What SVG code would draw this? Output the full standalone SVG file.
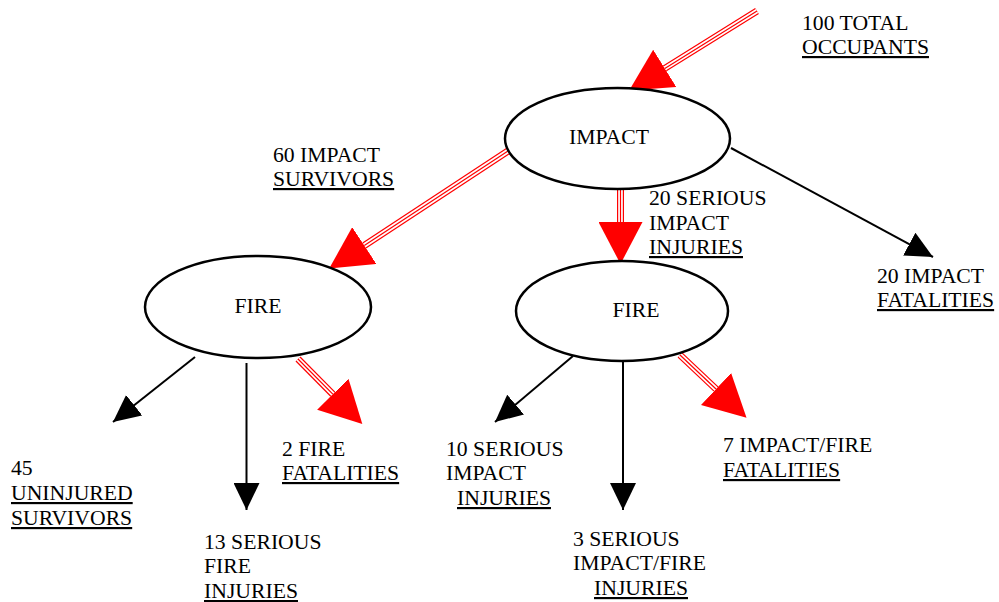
<svg xmlns="http://www.w3.org/2000/svg" width="999" height="602" viewBox="0 0 999 602">
<style>
text{font-family:"Liberation Serif","Times New Roman",serif;font-size:21.7px;fill:#000}
.u{text-decoration:underline}
.node{fill:#fff;stroke:#000;stroke-width:2.5}
.blk{stroke:#000;stroke-width:2;fill:none}
.red{stroke:#f00;stroke-width:7;fill:none}
.wht{stroke:#fff;stroke-width:4.6;fill:none}
.mid{stroke:#f00;stroke-width:1.2;fill:none}
</style>
<defs>
<marker id="bh" markerUnits="userSpaceOnUse" viewBox="0 0 27 26" refX="27" refY="13" markerWidth="27" markerHeight="26" orient="auto">
<path d="M0,0 L27,13 L0,26 Z" fill="#000"/>
</marker>
<marker id="rh" markerUnits="userSpaceOnUse" viewBox="0 0 42 44" refX="0" refY="22" markerWidth="42" markerHeight="44" orient="auto">
<path d="M0,0 L42,22 L0,44 Z" fill="#f00"/>
</marker>
</defs>
<g id="connectors">
<line class="red" x1="757" y1="11" x2="664.8" y2="68.4" marker-end="url(#rh)"/>
<line class="wht" x1="757" y1="11" x2="664.8" y2="68.4"/>
<line class="mid" x1="757" y1="11" x2="664.8" y2="68.4"/>
<line class="red" x1="508" y1="151" x2="364.3" y2="245.5" marker-end="url(#rh)"/>
<line class="wht" x1="508" y1="151" x2="364.3" y2="245.5"/>
<line class="mid" x1="508" y1="151" x2="364.3" y2="245.5"/>
<line class="red" x1="620.5" y1="189" x2="620.5" y2="222" marker-end="url(#rh)"/>
<line class="wht" x1="620.5" y1="189" x2="620.5" y2="222"/>
<line class="mid" x1="620.5" y1="189" x2="620.5" y2="222"/>
<line class="red" x1="298" y1="359" x2="332.8" y2="394.2" marker-end="url(#rh)"/>
<line class="wht" x1="298" y1="359" x2="332.8" y2="394.2"/>
<line class="mid" x1="298" y1="359" x2="332.8" y2="394.2"/>
<line class="red" x1="680" y1="355" x2="716" y2="389" marker-end="url(#rh)"/>
<line class="wht" x1="680" y1="355" x2="716" y2="389"/>
<line class="mid" x1="680" y1="355" x2="716" y2="389"/>
<line class="blk" x1="731" y1="148" x2="933" y2="257" marker-end="url(#bh)"/>
<line class="blk" x1="195" y1="357" x2="113" y2="422" marker-end="url(#bh)"/>
<line class="blk" x1="246.5" y1="363" x2="246.5" y2="510" marker-end="url(#bh)"/>
<line class="blk" x1="573" y1="356" x2="495" y2="422" marker-end="url(#bh)"/>
<line class="blk" x1="623" y1="361" x2="623" y2="510" marker-end="url(#bh)"/>
</g>
<g id="impact">
<ellipse class="node" cx="617.5" cy="138.5" rx="112.5" ry="50.5"/>
<text x="609" y="144" text-anchor="middle">IMPACT</text>
</g>
<g id="fire-left">
<ellipse class="node" cx="258" cy="307" rx="113" ry="51"/>
<text x="258" y="313" text-anchor="middle">FIRE</text>
</g>
<g id="fire-right">
<ellipse class="node" cx="622" cy="311" rx="106" ry="50"/>
<text x="636" y="317" text-anchor="middle">FIRE</text>
</g>
<g id="labels">
<text x="802" y="30">100 TOTAL</text>
<text x="802" y="54" class="u">OCCUPANTS</text>
<text x="273" y="162">60 IMPACT</text>
<text x="273" y="186" class="u">SURVIVORS</text>
<text x="649" y="205">20 SERIOUS</text>
<text x="649" y="230">IMPACT</text>
<text x="649" y="254" class="u">INJURIES</text>
<text x="877" y="283">20 IMPACT</text>
<text x="877" y="307" class="u">FATALITIES</text>
<text x="11" y="475">45</text>
<text x="11" y="500" class="u">UNINJURED</text>
<text x="11" y="525" class="u">SURVIVORS</text>
<text x="282" y="456">2 FIRE</text>
<text x="282" y="480" class="u">FATALITIES</text>
<text x="204" y="549">13 SERIOUS</text>
<text x="204" y="573">FIRE</text>
<text x="204" y="598" class="u">INJURIES</text>
<text x="446" y="456">10 SERIOUS</text>
<text x="446" y="480">IMPACT</text>
<text x="457" y="505" class="u">INJURIES</text>
<text x="723" y="452">7 IMPACT/FIRE</text>
<text x="723" y="477" class="u">FATALITIES</text>
<text x="573" y="546">3 SERIOUS</text>
<text x="573" y="570">IMPACT/FIRE</text>
<text x="594" y="595" class="u">INJURIES</text>
</g>
</svg>
